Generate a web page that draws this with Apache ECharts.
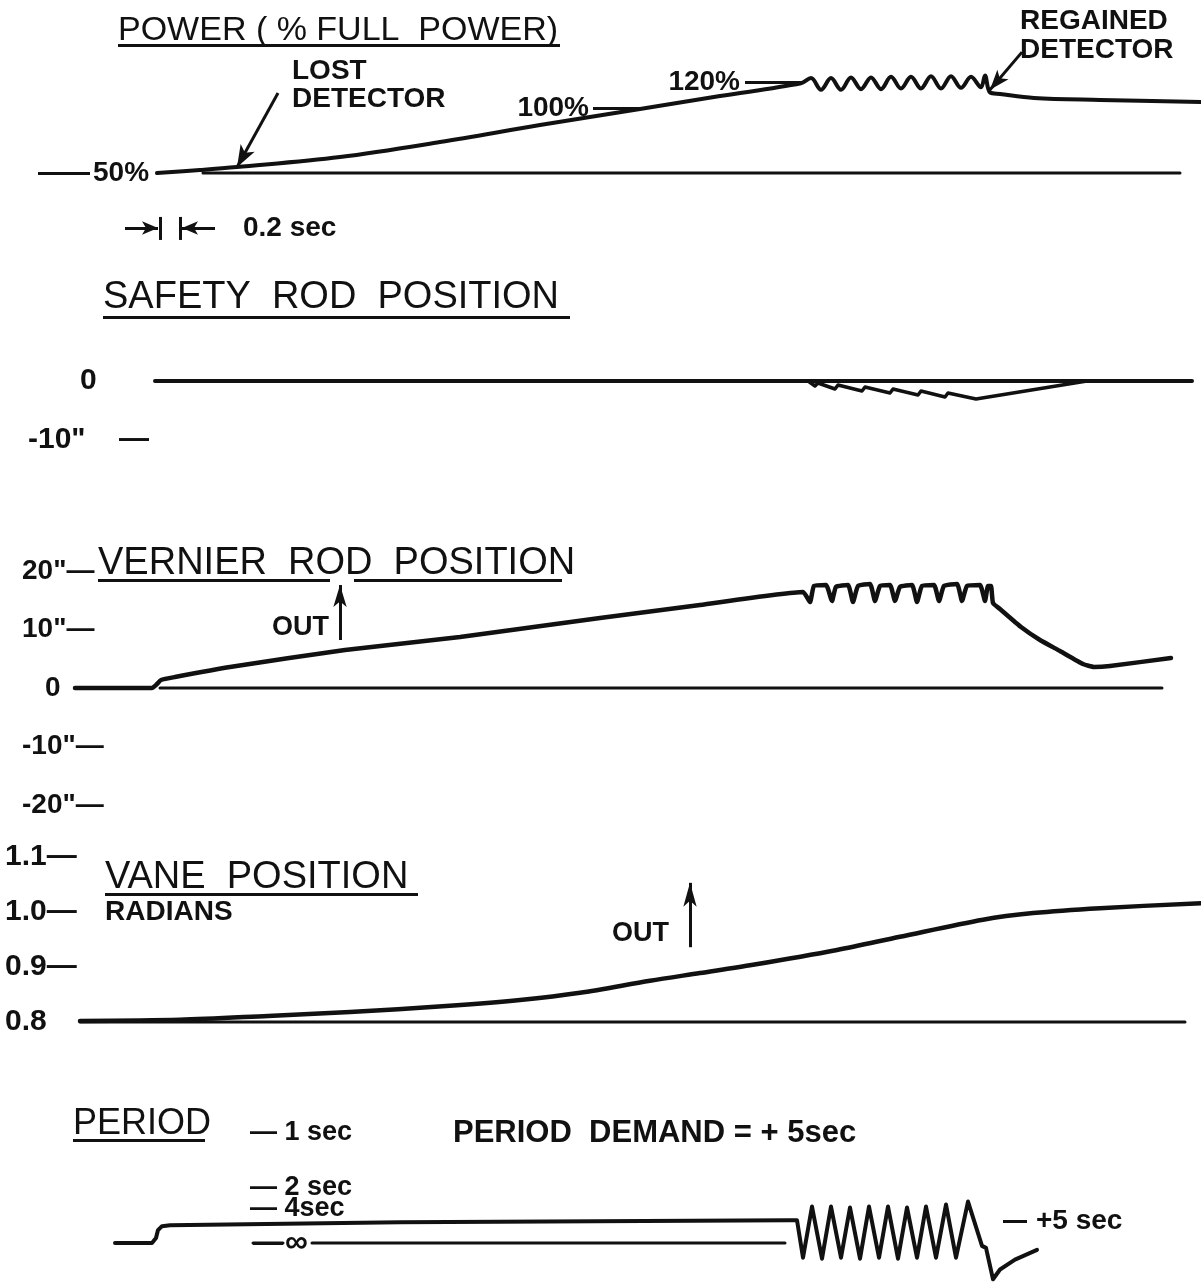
<!DOCTYPE html>
<html>
<head>
<meta charset="utf-8">
<script src="https://cdn.jsdelivr.net/npm/echarts@6/dist/echarts.min.js"></script>
<style>
  html, body { margin: 0; padding: 0; background: #fff; }
  #chart { width: 1201px; height: 1287px; }
</style>
</head>
<body>
<div id="chart"></div>
<script>
// ---- Recorded traces: time in seconds, values in each channel's own units ----

// Power, % of full power
const powerT = [0.02, 0.45, 0.82, 1.85, 2.85, 3.85, 4.85, 5.65, 6.46,
  6.56, 6.66, 6.76, 6.86, 6.96, 7.06, 7.16, 7.26, 7.36, 7.46, 7.56, 7.66, 7.76, 7.86, 7.96, 8.06, 8.16, 8.26,
  8.30, 8.35, 8.45, 8.79, 9.45, 10.46];
const powerV = [50, 52.3, 54.6, 62.3, 73.8, 86.9, 99.2, 109.2, 119,
  123, 114, 123, 114, 123.5, 114.5, 123.5, 114.5, 124, 115, 124, 115, 124.5, 115, 124.5, 115.5, 124, 116,
  125, 112, 110.8, 107.7, 106.2, 104.6];
const powerBaseT = [0.48, 10.25];
const powerBaseV = [50, 50];

// Safety rod position, inches
const safetyT = [6.53, 6.60, 6.63, 6.80, 6.83, 7.07, 7.10, 7.35, 7.38, 7.63, 7.66, 7.90, 7.93, 8.21, 9.32];
const safetyV = [0, -0.85, -0.34, -1.36, -0.68, -1.69, -1.02, -2.03, -1.36, -2.37, -1.69, -2.71, -2.03, -3.05, 0];
const safetyZeroT = [0, 10.37];
const safetyZeroV = [0, 0];

// Vernier rod position, inches
const vernierT = [-0.80, -0.03, 0.02, 0.06, 0.20, 0.75, 1.90, 3.05, 4.45, 5.45,
  6.48, 6.55, 6.59, 6.71, 6.77, 6.81, 6.93, 6.98, 7.03, 7.15,
  7.20, 7.25, 7.35, 7.40, 7.45, 7.57, 7.62, 7.67, 7.79, 7.84,
  7.89, 8.02, 8.07, 8.12, 8.25, 8.30, 8.33, 8.36, 8.38, 8.45,
  8.66, 8.85, 9.05, 9.28, 9.39, 9.55, 10.16];
const vernierV = [0, 0, 0.68, 1.37, 1.88, 3.59, 6.50, 8.72, 11.97, 14.19,
  16.41, 14.70, 17.44, 17.61, 14.87, 17.30, 17.61, 14.70, 17.44, 17.78,
  14.87, 17.44, 17.61, 14.87, 17.30, 17.61, 14.70, 17.44, 17.61, 14.87,
  17.44, 17.78, 14.87, 17.44, 17.61, 14.87, 17.44, 17.44, 14.53, 13.50,
  10.43, 8.21, 6.32, 4.10, 3.59, 3.76, 5.13];
const vernierZeroT = [0.05, 10.07];
const vernierZeroV = [0, 0];

// Vane position, radians
const vaneT = [-0.75, 0.25, 1.13, 1.95, 2.91, 3.65, 4.25, 4.95, 5.45, 5.98, 6.82, 7.45, 8.28, 8.78, 9.45, 10.46];
const vaneV = [0.802, 0.804, 0.811, 0.818, 0.829, 0.840, 0.853, 0.875, 0.889, 0.904, 0.931, 0.955, 0.986, 0.998, 1.007, 1.016];
const vaneBaseT = [-0.75, 10.30];
const vaneBaseV = [0.8, 0.8];

// Period, plotted as inverse period (1/sec)
const periodT = [-0.40, -0.03, 0.01, 0.03, 0.07, 0.15, 2.45, 6.35, 6.42,
  6.48, 6.57, 6.67, 6.76, 6.86, 6.95, 7.05, 7.14, 7.24, 7.33,
  7.43, 7.52, 7.62, 7.71, 7.81, 7.91, 8.01, 8.13,
  8.27, 8.31, 8.38, 8.45, 8.60, 8.82];
const periodV = [0, 0, 0.045, 0.116, 0.152, 0.161, 0.188, 0.205, 0.205,
  -0.134, 0.330, -0.143, 0.330, -0.134, 0.321, -0.143, 0.330, -0.134, 0.330,
  -0.143, 0.321, -0.134, 0.330, -0.134, 0.348, -0.134, 0.375,
  -0.027, -0.045, -0.330, -0.241, -0.152, -0.063];
const infinityT = [0.98, 1.28, 1.42, 1.57, 6.30];
const infinityV = [0, 0, '-', 0, 0];
const periodDemand = 0.2; // +5 sec

// Axis tick values and their labels
const safetyTicks = [0, -10];
const safetyTickLabels = ['0', '-10"    —'];
const vernierTicks = [20, 10, 0, -10, -20];
const vernierTickLabels = ['20"—', '10"—', '0', '-10"—', '-20"—'];
const vaneTicks = [1.1, 1.0, 0.9, 0.8];
const vaneTickLabels = ['1.1—', '1.0—', '0.9—', '0.8'];
const periodTicks = [1, 0.5];
const periodTickLabels = ['— 1 sec', '— 2 sec'];
const periodTickFine = [0.25];
const periodTickFineLabels = ['— 4sec'];
const infinityLabel = '∞';

// ---- Styling ----
const INK = '#111';
const FAMILY = '"Liberation Sans", Arial, Helvetica, sans-serif';
const boldFont = (s) => 'bold ' + s + 'px ' + FAMILY;
const plainFont = (s) => s + 'px ' + FAMILY;

const zip = (ts, vs) => ts.map((t, i) => [t, vs[i]]);
const pick = (ticks, labels) => (v) => {
  const i = ticks.findIndex(x => Math.abs(x - v) < 1e-9);
  return i < 0 ? '' : labels[i];
};

const T_MIN = -1.55, T_MAX = 10.46;   // shared time axis, 100 px per second

const gridBoxes = [
  { top: 43, height: 201.5 },     // power
  { top: 322, height: 177 },      // safety rod
  { top: 512.5, height: 351 },    // vernier rod
  { top: 802, height: 275 },      // vane
  { top: 1110.6, height: 179.2 }  // period
];

const labelBase = {
  color: INK, fontFamily: FAMILY, fontWeight: 'bold', fontSize: 28,
  showMinLabel: true, showMaxLabel: true, hideOverlap: false
};

function yAxis(i, min, max, extra) {
  return Object.assign({
    gridIndex: i, type: 'value', position: 'left', min: min, max: max,
    axisLine: { show: false }, axisTick: { show: false }, splitLine: { show: false },
    axisLabel: { show: false }, z: 10
  }, extra || {});
}

function line(i, data, width, extra) {
  return Object.assign({
    type: 'line', xAxisIndex: i, yAxisIndex: i, data: data,
    showSymbol: false, symbol: 'none', clip: false, silent: true,
    lineStyle: { color: INK, width: width, cap: 'round', join: 'round' }
  }, extra || {});
}

const markLabel = (text, position, distance, size) => ({
  show: true, position: position, formatter: text, distance: distance,
  color: INK, fontFamily: FAMILY, fontWeight: 'bold', fontSize: size || 28
});

const arrowEnd = (coord, size) => ({ coord: coord, symbol: 'arrow', symbolSize: size });

function markLines(data) {
  return {
    silent: true, symbol: 'none', animation: false,
    lineStyle: { color: INK, width: 3, type: 'solid' },
    label: { show: false },
    emphasis: { disabled: true },
    data: data
  };
}

const option = {
  backgroundColor: '#fff',
  animation: false,
  grid: gridBoxes.map(g => ({ left: 0, right: 0, top: g.top, height: g.height })),
  xAxis: gridBoxes.map((g, i) => ({ gridIndex: i, type: 'value', min: T_MIN, max: T_MAX, show: false })),
  yAxis: [
    yAxis(0, -5, 150),
    yAxis(1, -20, 10, {
      axisLabel: Object.assign({}, labelBase, {
        inside: true, margin: 28, customValues: safetyTicks, fontSize: 30,
        formatter: (v) => v === 0 ? '{z|0}' : pick(safetyTicks, safetyTickLabels)(v),
        rich: { z: { color: INK, fontFamily: FAMILY, fontWeight: 'bold', fontSize: 30, padding: [0, 0, 0, 52] } }
      })
    }),
    yAxis(2, -30, 30, {
      axisLabel: Object.assign({}, labelBase, {
        inside: true, margin: 22, customValues: vernierTicks,
        formatter: (v) => v === 0 ? '{z|0}' : pick(vernierTicks, vernierTickLabels)(v),
        rich: { z: { color: INK, fontFamily: FAMILY, fontWeight: 'bold', fontSize: 28, padding: [0, 0, 0, 23] } }
      })
    }),
    yAxis(3, 0.7, 1.2, {
      axisLabel: Object.assign({}, labelBase, {
        inside: true, margin: 5, customValues: vaneTicks, fontSize: 30,
        formatter: pick(vaneTicks, vaneTickLabels)
      })
    }),
    yAxis(4, -0.4, 1.2, {
      offset: -250,
      axisLabel: Object.assign({}, labelBase, {
        inside: true, margin: 0, customValues: periodTicks, fontSize: 27,
        formatter: pick(periodTicks, periodTickLabels)
      })
    }),
    // closely spaced period tick, lettered just above its level
    yAxis(4, -0.4, 1.2, {
      offset: -250,
      axisLabel: Object.assign({}, labelBase, {
        inside: true, margin: 0, customValues: periodTickFine, fontSize: 27, lineHeight: 14,
        formatter: (v) => pick(periodTickFine, periodTickFineLabels)(v) + '\n\u00a0'
      })
    })
  ],
  series: [
    // Power
    line(0, zip(powerBaseT, powerBaseV), 3, {
      markLine: markLines([
        [{ coord: [-1.17, 50], label: markLabel('50%', 'end', 3) }, { coord: [-0.65, 50] }],
        [{ coord: [4.38, 100], label: markLabel('100%', 'start', 4) }, { coord: [4.85, 100] }],
        [{ coord: [5.90, 120], label: markLabel('120%', 'start', 5) }, { coord: [6.46, 120] }],
        // lost detector pointer
        [{ coord: [1.23, 111.5], lineStyle: { curveness: 0.08 } }, arrowEnd([0.82, 54.5], [12, 22])],
        // regained detector pointer
        [{ coord: [8.67, 143], lineStyle: { curveness: -0.3 } }, arrowEnd([8.35, 114], [11, 20])],
        // 0.2 sec time marker
        [{ coord: [-0.30, 7.7] }, arrowEnd([0.03, 7.7], [10, 16])],
        [{ coord: [0.05, 16.2] }, { coord: [0.05, -1.5] }],
        [{ coord: [0.25, 16.2] }, { coord: [0.25, -1.5] }],
        [{ coord: [0.60, 7.7], label: markLabel('0.2 sec', 'start', 28) }, arrowEnd([0.27, 7.7], [10, 16])]
      ])
    }),
    line(0, zip(powerT, powerV), 4, { smooth: 0.35 }),

    // Safety rod
    line(1, zip(safetyZeroT, safetyZeroV), 4),
    line(1, zip(safetyT, safetyV), 3.5),

    // Vernier rod
    line(2, zip(vernierZeroT, vernierZeroV), 3, {
      markLine: markLines([
        [{ coord: [1.85, 8.2] }, arrowEnd([1.85, 17.6], [10, 22])]
      ])
    }),
    line(2, zip(vernierT, vernierV), 4.5, { smooth: 0.15 }),

    // Vane
    line(3, zip(vaneBaseT, vaneBaseV), 3, {
      markLine: markLines([
        [{ coord: [5.35, 0.936] }, arrowEnd([5.35, 1.053], [10, 24])]
      ])
    }),
    line(3, zip(vaneT, vaneV), 4.5, { smooth: 0.3 }),

    // Period: infinite-period reference line, broken around its symbol
    line(4, zip(infinityT, infinityV), 3, {
      connectNulls: false,
      markLine: markLines([
        [{ coord: [infinityT[0], 0], label: markLabel(infinityLabel, 'end', 2, 32) }, { coord: [infinityT[1], 0] }]
      ])
    }),
    line(4, zip(periodT, periodV), 4, {
      markLine: markLines([
        [{ coord: [8.48, periodDemand], label: markLabel('+5 sec', 'end', 9) }, { coord: [8.72, periodDemand] }]
      ])
    })
  ],
  graphic: {
    elements: [
      // panel titles
      { type: 'text', x: 118, y: 31, style: { text: 'POWER ( % FULL  POWER)', font: plainFont(34), fill: INK, verticalAlign: 'middle' } },
      { type: 'rect', shape: { x: 118, y: 44, width: 442, height: 3 }, style: { fill: INK } },
      { type: 'text', x: 103, y: 298, style: { text: 'SAFETY  ROD  POSITION', font: plainFont(38), fill: INK, verticalAlign: 'middle' } },
      { type: 'rect', shape: { x: 103, y: 316, width: 467, height: 3 }, style: { fill: INK } },
      { type: 'text', x: 98, y: 564, style: { text: 'VERNIER  ROD  POSITION', font: plainFont(38), fill: INK, verticalAlign: 'middle' } },
      { type: 'rect', shape: { x: 98, y: 579, width: 232, height: 3 }, style: { fill: INK } },
      { type: 'rect', shape: { x: 354, y: 579, width: 208, height: 3 }, style: { fill: INK } },
      { type: 'text', x: 105, y: 878, style: { text: 'VANE  POSITION', font: plainFont(38), fill: INK, verticalAlign: 'middle' } },
      { type: 'rect', shape: { x: 105, y: 893, width: 313, height: 3 }, style: { fill: INK } },
      { type: 'text', x: 73, y: 1124, style: { text: 'PERIOD', font: plainFont(36), fill: INK, verticalAlign: 'middle' } },
      { type: 'rect', shape: { x: 73, y: 1139, width: 132, height: 3 }, style: { fill: INK } },
      // annotations
      { type: 'text', x: 292, y: 71, style: { text: 'LOST', font: boldFont(28), fill: INK, verticalAlign: 'middle' } },
      { type: 'text', x: 292, y: 99, style: { text: 'DETECTOR', font: boldFont(28), fill: INK, verticalAlign: 'middle' } },
      { type: 'text', x: 1020, y: 21, style: { text: 'REGAINED', font: boldFont(28), fill: INK, verticalAlign: 'middle' } },
      { type: 'text', x: 1020, y: 50, style: { text: 'DETECTOR', font: boldFont(28), fill: INK, verticalAlign: 'middle' } },
      { type: 'text', x: 272, y: 628, style: { text: 'OUT', font: boldFont(27), fill: INK, verticalAlign: 'middle' } },
      { type: 'text', x: 105, y: 912, style: { text: 'RADIANS', font: boldFont(28), fill: INK, verticalAlign: 'middle' } },
      { type: 'text', x: 612, y: 934, style: { text: 'OUT', font: boldFont(27), fill: INK, verticalAlign: 'middle' } },
      { type: 'text', x: 453, y: 1133, style: { text: 'PERIOD  DEMAND = + 5sec', font: boldFont(31), fill: INK, verticalAlign: 'middle' } }
    ]
  }
};

const chart = echarts.init(document.getElementById('chart'), null, { renderer: 'canvas' });
chart.setOption(option);
</script>
</body>
</html>
